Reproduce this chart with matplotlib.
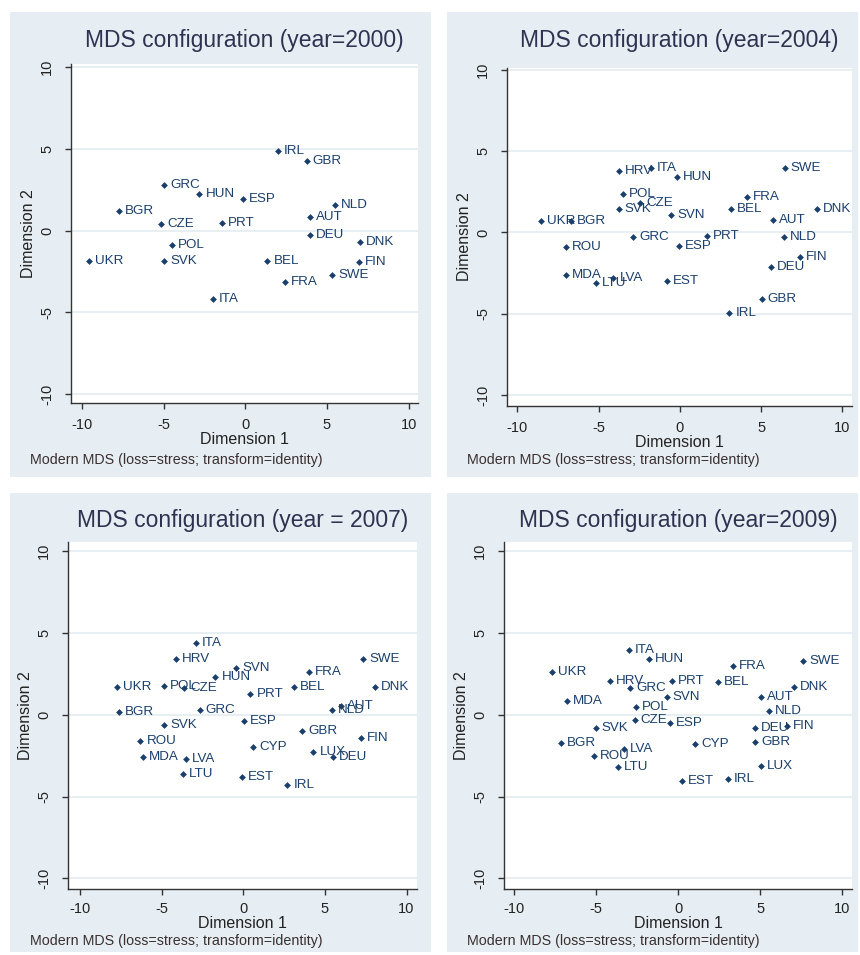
import matplotlib
matplotlib.use("Agg")
import matplotlib.pyplot as plt
from matplotlib.patches import Rectangle

plt.rcParams['font.family'] = ['Liberation Sans', 'DejaVu Sans']

# ---- MDS coordinates per year ----
codes_2000 = ["IRL", "GBR", "GRC", "HUN", "ESP", "NLD", "BGR", "AUT", "CZE", "PRT",
              "DEU", "POL", "DNK", "UKR", "SVK", "BEL", "FIN", "SWE", "FRA", "ITA"]
dim1_2000 = [1.99, 3.76, -4.96, -2.80, -0.13, 5.50, -7.74, 3.97, -5.13, -1.44,
             3.97, -4.50, 7.03, -9.53, -4.96, 1.36, 6.94, 5.33, 2.44, -1.99]
dim2_2000 = [4.86, 4.24, 2.80, 2.27, 1.91, 1.56, 1.22, 0.83, 0.39, 0.49,
             -0.24, -0.87, -0.69, -1.84, -1.84, -1.84, -1.95, -2.74, -3.12, -4.17]

codes_2004 = ["HRV", "ITA", "HUN", "SWE", "POL", "CZE", "FRA", "SVK", "BEL", "DNK",
              "SVN", "UKR", "BGR", "AUT", "GRC", "PRT", "NLD", "ROU", "ESP", "FIN",
              "DEU", "MDA", "LVA", "LTU", "EST", "GBR", "IRL"]
dim1_2004 = [-3.76, -1.79, -0.17, 6.46, -3.48, -2.43, 4.12, -3.76, 3.13, 8.44,
             -0.54, -8.54, -6.71, 5.75, -2.86, 1.66, 6.39, -7.00, -0.07, 7.38,
             5.59, -7.00, -4.09, -5.18, -0.79, 5.04, 3.05]
dim2_2004 = [3.78, 3.96, 3.43, 3.96, 2.39, 1.84, 2.18, 1.47, 1.47, 1.47,
             1.10, 0.69, 0.69, 0.77, -0.31, -0.20, -0.31, -0.92, -0.84, -1.53,
             -2.11, -2.62, -2.82, -3.11, -2.99, -4.07, -4.95]

codes_2007 = ["ITA", "HRV", "SWE", "SVN", "FRA", "HUN", "UKR", "POL", "CZE", "BEL",
              "DNK", "PRT", "NLD", "AUT", "BGR", "GRC", "ESP", "SVK", "GBR", "FIN",
              "ROU", "CYP", "LUX", "DEU", "MDA", "LVA", "LTU", "EST", "IRL"]
dim1_2007 = [-2.90, -4.12, 7.35, -0.45, 4.00, -1.71, -7.73, -4.86, -3.61, 3.12,
             8.06, 0.43, 5.45, 5.96, -7.65, -2.69, 0.04, -4.86, 3.59, 7.19,
             -6.31, 0.59, 4.29, 5.49, -6.18, -3.51, -3.69, -0.10, 2.69]
dim2_2007 = [4.35, 3.41, 3.41, 2.88, 2.61, 2.31, 1.70, 1.78, 1.61, 1.70,
             1.70, 1.24, 0.26, 0.55, 0.16, 0.26, -0.37, -0.65, -1.00, -1.45,
             -1.63, -1.96, -2.27, -2.61, -2.61, -2.69, -3.63, -3.78, -4.29]

codes_2009 = ["ITA", "HUN", "UKR", "FRA", "SWE", "HRV", "PRT", "BEL", "GRC", "DNK",
              "MDA", "SVN", "AUT", "POL", "NLD", "CZE", "ESP", "SVK", "DEU", "FIN",
              "BGR", "CYP", "GBR", "LVA", "ROU", "LTU", "LUX", "EST", "IRL"]
dim1_2009 = [-3.02, -1.78, -7.71, 3.32, 7.61, -4.18, -0.36, 2.45, -2.94, 7.08,
             -6.80, -0.70, 5.05, -2.59, 5.55, -2.65, -0.48, -5.03, 4.68, 6.62,
             -7.16, 1.02, 4.68, -3.29, -5.15, -3.65, 5.05, 0.21, 3.05]
dim2_2009 = [3.95, 3.40, 2.63, 2.98, 3.26, 2.08, 2.08, 2.00, 1.62, 1.70,
             0.85, 1.09, 1.11, 0.47, 0.22, -0.32, -0.50, -0.81, -0.81, -0.71,
             -1.74, -1.80, -1.66, -2.08, -2.53, -3.18, -3.16, -4.07, -3.91]

titles = ["MDS configuration (year=2000)", "MDS configuration (year=2004)",
          "MDS configuration (year = 2007)", "MDS configuration (year=2009)"]
ticks = [-10, -5, 0, 5, 10]
note = "Modern MDS (loss=stress; transform=identity)"

W, H = 860, 955
fig = plt.figure(figsize=(W / 100, H / 100), dpi=100)
fig.patch.set_facecolor("white")

BG = "#e7eef3"
GRID = "#e4ecf0"
NAVY = "#1a3f6b"
TITLE_C = "#2d3350"

# panel backgrounds (pixel boxes: left, top, right, bottom)
bg_boxes = [(10, 12, 431, 477), (447, 12, 858, 477),
            (10, 493, 431, 952), (447, 493, 858, 952)]
# plot regions in pixels and data limits
plot_boxes = [(71, 64, 418, 403), (507, 68, 852, 406),
              (68, 542, 417, 889), (504, 542, 852, 889)]
xlims = [(-10.66, 10.57), (-10.64, 10.60), (-10.75, 10.64), (-10.62, 10.60)]
ylims = [(-10.55, 10.20), (-10.68, 10.12), (-10.65, 10.55), (-10.65, 10.55)]
# vertical pixel position of the footnote in each panel
note_y = [460, 460, 941, 941]
xtick_pad = [7, 7, 5, 5]

data = [(codes_2000, dim1_2000, dim2_2000), (codes_2004, dim1_2004, dim2_2004),
        (codes_2007, dim1_2007, dim2_2007), (codes_2009, dim1_2009, dim2_2009)]


def frac_box(l, t, r, b):
    return [l / W, 1 - b / H, (r - l) / W, (b - t) / H]


for i in range(4):
    l, t, r, b = bg_boxes[i]
    fig.patches.append(Rectangle((l / W, 1 - b / H), (r - l) / W, (b - t) / H,
                                 transform=fig.transFigure, facecolor=BG,
                                 edgecolor="none", zorder=-5))

    ax = fig.add_axes(frac_box(*plot_boxes[i]), zorder=2)
    ax.set_facecolor("white")
    ax.set_xlim(*xlims[i])
    ax.set_ylim(*ylims[i])
    ax.set_xticks(ticks)
    ax.set_yticks(ticks)
    ax.set_xticklabels([str(v) for v in ticks], fontsize=10.5, color="#222222")
    ax.set_yticklabels([str(v) for v in ticks], fontsize=10.5, color="#222222",
                       rotation=90, va="center")
    for s in ("top", "right"):
        ax.spines[s].set_visible(False)
    for s in ("left", "bottom"):
        ax.spines[s].set_color("#333333")
        ax.spines[s].set_linewidth(1.0)
    ax.tick_params(direction="out", length=4, width=1, color="#333333")
    ax.tick_params(axis="x", pad=xtick_pad[i])
    ax.tick_params(axis="y", pad=8)
    ax.yaxis.grid(True, color=GRID, linewidth=1.2)
    ax.set_axisbelow(True)

    ax.set_xlabel("Dimension 1", fontsize=11.5, color="#222222", labelpad=0)
    ax.set_ylabel("Dimension 2", fontsize=11.5, color="#222222", labelpad=3)

    codes, d1, d2 = data[i]
    ax.scatter(d1, d2, marker="D", s=12, color=NAVY, zorder=3, linewidths=0)
    for c, x, y in zip(codes, d1, d2):
        ax.annotate(c, (x, y), xytext=(6, 0), textcoords="offset pixels",
                    ha="left", va="center", fontsize=9.6, color=NAVY, zorder=4)

    cx = (plot_boxes[i][0] + plot_boxes[i][2]) / 2
    ty = bg_boxes[i][1] + 28
    fig.text(cx / W, 1 - ty / H, titles[i], ha="center", va="center",
             fontsize=16.5, color=TITLE_C)
    fig.text((bg_boxes[i][0] + 20) / W, 1 - note_y[i] / H, note,
             ha="left", va="center", fontsize=10.3, color="#3a2f2f")

fig.savefig("out.png", dpi=100)
